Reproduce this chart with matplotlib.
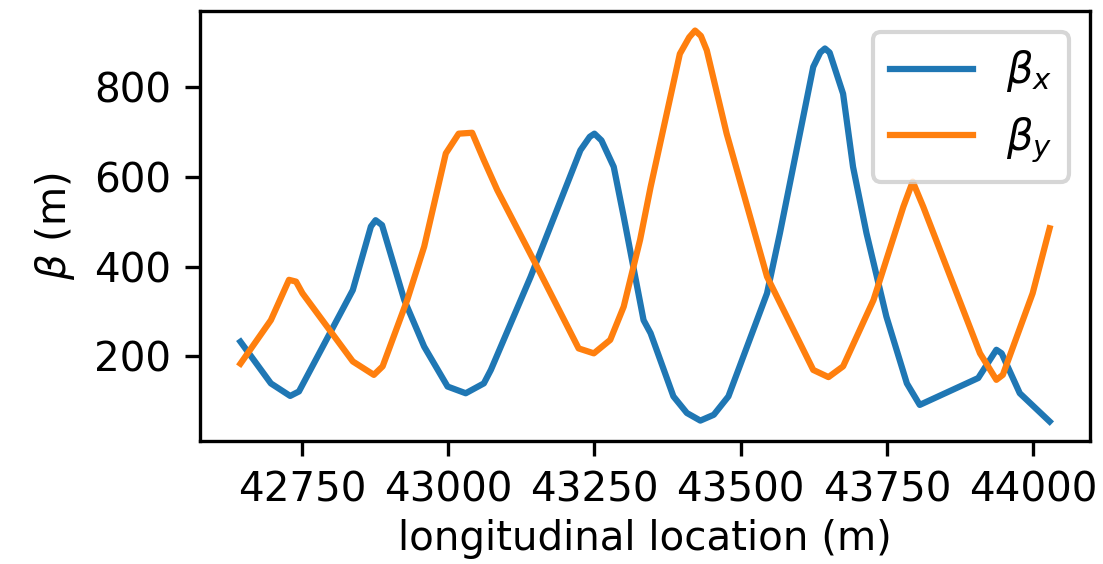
import matplotlib
matplotlib.use("Agg")
import matplotlib.pyplot as plt

plt.rcParams['font.size'] = 9.7

# beta functions along the lattice
s_x = [42645, 42697, 42730, 42745, 42837, 42868, 42876, 42887, 42925, 42959, 42999,
       43030, 43061, 43073, 43141, 43226, 43242, 43250, 43262, 43283, 43300, 43334,
       43346, 43385, 43408, 43431, 43454, 43479, 43545, 43567, 43624, 43636, 43644,
       43652, 43675, 43692, 43715, 43749, 43784, 43806, 43906, 43937, 43946,
       43977, 44028]
beta_x = [233, 140, 112, 122, 348, 490, 504, 493, 326, 222, 133,
          118, 140, 170, 378, 660, 690, 697, 682, 623, 512, 281,
          252, 111, 74, 57, 70, 111, 341, 475, 846, 878, 887,
          878, 786, 623, 475, 289, 140, 92, 152, 215, 207,
          118, 55]

s_y = [42645, 42697, 42728, 42740, 42751, 42837, 42873, 42888, 42930, 42959,
       42996, 43018, 43041, 43061, 43084, 43152, 43223, 43249, 43277, 43300,
       43328, 43346, 43396, 43412, 43422, 43432, 43442, 43476, 43545, 43624, 43650, 43675,
       43727, 43778, 43794, 43812, 43909, 43937, 43948, 43999, 44028]
beta_y = [184, 281, 371, 367, 341, 189, 159, 178, 326, 445,
          653, 697, 699, 638, 571, 400, 218, 207, 237, 311,
          460, 578, 875, 912, 927, 915, 883, 697, 378, 170, 154, 178,
          326, 534, 590, 534, 207, 148, 159, 341, 486]

fig, ax = plt.subplots(figsize=(3.677, 1.88), dpi=300)
fig.subplots_adjust(left=0.1813, right=0.9882, bottom=0.218, top=0.9805)

ax.plot(s_x, beta_x, label=r'$\beta_x$')
ax.plot(s_y, beta_y, label=r'$\beta_y$')

ax.set_xticks([42750, 43000, 43250, 43500, 43750, 44000])
ax.set_yticks([200, 400, 600, 800])
ax.set_xlabel('longitudinal location (m)', labelpad=2.2)
ax.set_ylabel(r'$\beta$ (m)')
ax.legend(loc='upper right', fontsize=10)

fig.savefig('out.png', dpi=300)
